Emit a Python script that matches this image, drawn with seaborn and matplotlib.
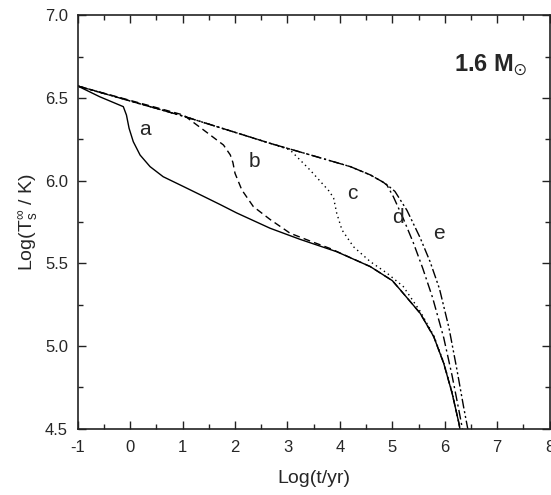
import numpy as np
import pandas as pd
import matplotlib
matplotlib.use("Agg")
import matplotlib.pyplot as plt
import seaborn as sns

# ---- data ----
a_x = [-1.0, -0.58, -0.13, -0.07, -0.02, 0.06, 0.19, 0.38, 0.63, 1.02, 1.40, 1.72, 2.03, 2.67, 3.24, 3.94,
       4.58, 5.00, 5.15, 5.53, 5.79, 5.98, 6.14, 6.27, 6.30]
a_y = [6.573, 6.508, 6.448, 6.397, 6.317, 6.236, 6.155, 6.085, 6.024, 5.964, 5.905, 5.855, 5.805, 5.712, 5.645, 5.570,
       5.480, 5.395, 5.340, 5.198, 5.056, 4.895, 4.714, 4.532, 4.48]

b_x = [-1.0, 1.02, 1.40, 1.78, 1.91, 1.96, 2.00, 2.13, 2.35, 2.67, 3.05, 3.43, 3.81, 4.58, 5.00, 5.15, 5.53, 5.79,
       5.98, 6.14, 6.27, 6.30]
b_y = [6.573, 6.397, 6.307, 6.216, 6.156, 6.110, 6.045, 5.944, 5.843, 5.765, 5.682, 5.635, 5.590, 5.480, 5.395, 5.340,
       5.198, 5.056, 4.895, 4.714, 4.532, 4.48]

c_x = [-1.0, 1.02, 2.67, 3.05, 3.43, 3.80, 3.88, 3.94, 4.04, 4.26, 4.58, 4.90, 5.21, 5.53, 5.79, 5.98, 6.14, 6.27, 6.31]
c_y = [6.573, 6.390, 6.226, 6.186, 6.065, 5.935, 5.895, 5.803, 5.702, 5.600, 5.510, 5.440, 5.359, 5.210, 5.062, 4.900,
       4.720, 4.535, 4.48]

d_x = [-1.0, 1.02, 2.67, 3.50, 4.20, 4.58, 4.83, 4.90, 5.02, 5.21, 5.40, 5.58, 5.77, 5.98, 6.14, 6.27, 6.36]
d_y = [6.573, 6.390, 6.226, 6.150, 6.085, 6.035, 5.990, 5.972, 5.903, 5.770, 5.625, 5.470, 5.290, 5.050, 4.820, 4.610,
       4.46]

e_x = [-1.0, 1.02, 2.67, 3.50, 4.20, 4.58, 4.83, 4.90, 5.05, 5.28, 5.53, 5.72, 5.90, 6.08, 6.23, 6.36, 6.45]
e_y = [6.573, 6.390, 6.226, 6.150, 6.085, 6.035, 5.990, 5.975, 5.935, 5.820, 5.655, 5.510, 5.345, 5.110, 4.860, 4.630,
       4.48]

curve_names = ["a", "b", "c", "d", "e"]
label_x = [0.28, 2.38, 4.23, 5.11, 5.88]
label_y = [6.31, 6.115, 5.925, 5.78, 5.68]

x_ticks = [-1, 0, 1, 2, 3, 4, 5, 6, 7, 8]
y_ticks = [4.5, 5.0, 5.5, 6.0, 6.5, 7.0]
title_text = r"1.6 M$_{\odot}$"
x_label = "Log(t/yr)"
y_label = r"Log(T$_{s}^{\infty}$ / K)"

# ---- build table ----
frames = []
for name, xs, ys in zip(curve_names, [a_x, b_x, c_x, d_x, e_x], [a_y, b_y, c_y, d_y, e_y]):
    frames.append(pd.DataFrame({"x": xs, "y": ys, "curve": name}))
df = pd.concat(frames, ignore_index=True)

sns.set_style("ticks")
plt.rcParams["font.family"] = ["Liberation Sans", "DejaVu Sans"]
plt.rcParams["mathtext.fontset"] = "custom"
plt.rcParams["mathtext.rm"] = "Liberation Sans"
plt.rcParams["mathtext.it"] = "Liberation Sans"
plt.rcParams["mathtext.bf"] = "Liberation Sans:bold"
plt.rcParams["mathtext.fallback"] = "stixsans"

fig = plt.figure(figsize=(5.51, 4.95), dpi=100)
ax = fig.add_axes([0.141, 0.1343, 0.8565, 0.8345])

dash_map = {"a": "", "b": (5, 3), "c": (1, 2.5), "d": (7, 2.5, 1.5, 2.5), "e": (7, 2, 1.5, 2, 1.5, 2)}
sns.lineplot(data=df, x="x", y="y", style="curve", dashes=dash_map, color="black",
             linewidth=1.0, estimator=None, sort=False, legend=False, ax=ax)

for name, lx, ly in zip(curve_names, label_x, label_y):
    ax.text(lx, ly, name, fontsize=15, ha="center", va="center")

ax.text(7.57, 6.70, title_text, fontsize=17, fontweight="bold", ha="right", va="center")

ax.set_xlim(-1, 8)
ax.set_ylim(4.5, 7.0)
ax.set_xticks(x_ticks)
ax.set_yticks(y_ticks)
ax.set_xticklabels([str(t) for t in x_ticks])
ax.set_yticklabels([f"{t:.1f}" for t in y_ticks])
ax.set_xticks(np.arange(-0.5, 8, 1.0), minor=True)
ax.set_yticks(np.arange(4.75, 7.0, 0.5), minor=True)
ax.tick_params(which="both", direction="in", top=True, right=True, labelsize=12, color="#222222", width=1.0)
ax.tick_params(which="major", length=6)
ax.tick_params(which="minor", length=3.5)
ax.tick_params(axis="x", which="major", pad=8)
ax.tick_params(axis="y", which="major", pad=7)
for s in ax.spines.values():
    s.set_linewidth(1.2)
    s.set_color("#222222")
ax.set_xlabel(x_label, fontsize=14, labelpad=11)
ax.set_ylabel(y_label, fontsize=14, labelpad=4)

fig.savefig("out.png", dpi=100)
